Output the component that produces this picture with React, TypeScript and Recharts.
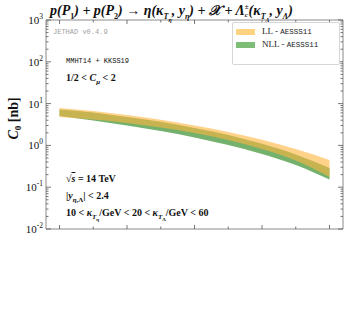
import { Area, ComposedChart, XAxis, YAxis } from "recharts";

const kappa = [20, 25, 30, 35, 40, 45, 50, 55, 60];
const llHigh = [7.85, 6.65, 5.34, 4.1, 2.99, 2.09, 1.36, 0.82, 0.448];
const llLow = [4.78, 4.17, 3.44, 2.68, 1.98, 1.35, 0.82, 0.435, 0.175];
const nllHigh = [7.22, 6.12, 4.78, 3.67, 2.61, 1.77, 1.09, 0.606, 0.288];
const nllLow = [5.05, 3.94, 2.99, 2.21, 1.55, 1.02, 0.622, 0.34, 0.153];

const yMajorTicks = [0.01, 0.1, 1, 10, 100, 1000];
const xTicks = [20, 22.5, 25, 27.5, 30, 32.5, 35, 37.5, 40, 42.5, 45, 47.5, 50, 52.5, 55, 57.5, 60];

const yTicks = yMajorTicks.flatMap((m, i) =>
  i === yMajorTicks.length - 1 ? [m] : [1, 2, 3, 4, 5, 6, 7, 8, 9].map((k) => +(m * k).toPrecision(3)),
);

const rows = kappa.map((k, i) => ({
  k,
  ll: [llLow[i], llHigh[i]],
  nll: [nllLow[i], nllHigh[i]],
}));

const serif = "'Liberation Serif', 'DejaVu Serif', serif";
const mono = "'Liberation Mono', 'DejaVu Sans Mono', monospace";
const frame = "#8a8a8a";
const tickColor = "#555";

function isMajor(v: number) {
  const l = Math.log10(v);
  return Math.abs(l - Math.round(l)) < 1e-6;
}

function LeftTick({ x, y, payload }: any) {
  const v = payload.value;
  const major = isMajor(v);
  const e = Math.round(Math.log10(v));
  const x0 = x + 3;
  return (
    <g>
      <line x1={x0} x2={x0 + (major ? 5 : 2.5)} y1={y} y2={y} stroke={tickColor} strokeWidth={0.8} />
      {major && (
        <text x={x} y={y + 4} textAnchor="end" fontFamily={serif} fontSize={11} fill="#111">
          10
          <tspan dy={-5} fontSize={7.5}>
            {e}
          </tspan>
        </text>
      )}
    </g>
  );
}

function RightTick({ x, y, payload }: any) {
  const major = isMajor(payload.value);
  return <line x1={x} x2={x - (major ? 5 : 2.5)} y1={y} y2={y} stroke={tickColor} strokeWidth={0.8} />;
}

function BottomTick({ x, y, payload }: any) {
  const major = payload.value % 10 === 0;
  return <line x1={x} x2={x} y1={y} y2={y - (major ? 4 : 2.5)} stroke={tickColor} strokeWidth={0.8} />;
}

function TopTick({ x, y, payload }: any) {
  const major = payload.value % 10 === 0;
  return <line x1={x} x2={x} y1={y} y2={y + (major ? 4 : 2.5)} stroke={tickColor} strokeWidth={0.8} />;
}

const abs = (left: number, top: number, extra: any = {}) => ({
  position: "absolute" as const,
  left,
  top,
  whiteSpace: "nowrap" as const,
  lineHeight: 1,
  ...extra,
});

export default function App() {
  return (
    <div style={{ position: "absolute", left: 0, top: 0, width: 349, height: 329, background: "#fff", overflow: "hidden" }}>
      <ComposedChart width={349} height={329} data={rows} margin={{ top: 19, right: 0, bottom: 99, left: 0 }}>
        <XAxis
          xAxisId="b"
          dataKey="k"
          type="number"
          domain={[18, 62]}
          allowDataOverflow
          ticks={xTicks}
          height={1}
          tickSize={0}
          tickMargin={0}
          tick={<BottomTick />}
          axisLine={{ stroke: frame }}
          tickLine={false}
        />
        <XAxis
          xAxisId="t"
          orientation="top"
          dataKey="k"
          type="number"
          domain={[18, 62]}
          allowDataOverflow
          ticks={xTicks}
          height={1}
          tickSize={0}
          tickMargin={0}
          tick={<TopTick />}
          axisLine={{ stroke: frame }}
          tickLine={false}
        />
        <YAxis
          yAxisId="l"
          scale="log"
          domain={[0.01, 1000]}
          allowDataOverflow
          ticks={yTicks}
          interval={0}
          width={46}
          tickSize={0}
          tickMargin={3}
          tick={<LeftTick />}
          axisLine={{ stroke: frame }}
          tickLine={false}
        />
        <YAxis
          yAxisId="r"
          orientation="right"
          scale="log"
          domain={[0.01, 1000]}
          allowDataOverflow
          ticks={yTicks}
          interval={0}
          width={6}
          tickSize={0}
          tickMargin={0}
          tick={<RightTick />}
          axisLine={{ stroke: frame }}
          tickLine={false}
        />
        <Area
          xAxisId="b"
          yAxisId="l"
          type="monotone"
          dataKey="nll"
          stroke="none"
          fill="#5ca352"
          fillOpacity={0.85}
          isAnimationActive={false}
        />
        <Area
          xAxisId="b"
          yAxisId="l"
          type="monotone"
          dataKey="ll"
          stroke="none"
          fill="#ffb43c"
          fillOpacity={0.6}
          isAnimationActive={false}
        />
      </ComposedChart>

      <div
        style={abs(50, 4, {
          fontFamily: serif,
          fontStyle: "italic",
          fontWeight: "bold",
          fontSize: 14,
          color: "#111",
        })}
      >
        p(P<sub style={{ fontSize: 8, fontStyle: "normal" }}>1</sub>) + p(P
        <sub style={{ fontSize: 8, fontStyle: "normal" }}>2</sub>) → η(κ
        <sub style={{ fontSize: 8 }}>T<sub style={{ fontSize: 6 }}>η</sub></sub>, y
        <sub style={{ fontSize: 8 }}>η</sub>) + 𝒳 + Λ
        <span
          style={{
            display: "inline-flex",
            flexDirection: "column",
            fontSize: 7,
            verticalAlign: "middle",
            lineHeight: 1.05,
            fontStyle: "normal",
          }}
        >
          <span>±</span>
          <span style={{ fontStyle: "italic" }}>c</span>
        </span>
        (κ<sub style={{ fontSize: 8 }}>T<sub style={{ fontSize: 6 }}>Λ</sub></sub>, y<sub style={{ fontSize: 8 }}>Λ</sub>)
      </div>

      <div
        style={abs(-10, 110, {
          transform: "rotate(-90deg)",
          fontFamily: serif,
          fontWeight: "bold",
          fontSize: 14,
          color: "#111",
          width: 50,
          textAlign: "center",
        })}
      >
        <i>C</i>
        <sub style={{ fontSize: 9 }}>0</sub> [nb]
      </div>

      <div style={abs(53, 29, { fontFamily: mono, fontSize: 7, color: "#a0a0a0" })}>JETHAD v0.4.9</div>
      <div style={abs(66, 58, { fontFamily: mono, fontSize: 7, color: "#111" })}>MMHT14 + KKSS19</div>
      <div style={abs(66, 73, { fontFamily: serif, fontWeight: "bold", fontSize: 10, color: "#111" })}>
        1/2 &lt; <i>C</i>
        <sub style={{ fontSize: 7 }}>
          <i>μ</i>
        </sub>{" "}
        &lt; 2
      </div>

      <div style={abs(66, 174, { fontFamily: serif, fontWeight: "bold", fontSize: 10, color: "#111" })}>
        √<span style={{ textDecoration: "overline" }}><i>s</i></span> = 14 TeV
      </div>
      <div style={abs(66, 191, { fontFamily: serif, fontWeight: "bold", fontSize: 10, color: "#111" })}>
        |<i>y</i>
        <sub style={{ fontSize: 7 }}>
          <i>η</i>,Λ
        </sub>
        | &lt; 2.4
      </div>
      <div style={abs(66, 208, { fontFamily: serif, fontWeight: "bold", fontSize: 10, color: "#111" })}>
        10 &lt; <i>κ</i>
        <sub style={{ fontSize: 7 }}>
          <i>T</i>
          <sub style={{ fontSize: 5 }}>η</sub>
        </sub>
        /GeV &lt; 20 &lt; <i>κ</i>
        <sub style={{ fontSize: 7 }}>
          <i>T</i>
          <sub style={{ fontSize: 5 }}>Λ</sub>
        </sub>
        /GeV &lt; 60
      </div>

      <div
        style={{
          position: "absolute",
          left: 232,
          top: 22,
          width: 106,
          height: 41,
          border: "1px solid #d6d6d6",
          borderRadius: 2,
          background: "#fff",
        }}
      >
        <div style={abs(3, 6, { width: 19, height: 6, background: "#ffd27f" })} />
        <div style={abs(29, 4, { fontFamily: serif, fontSize: 9, color: "#222" })}>
          LL - <span style={{ fontFamily: mono, fontSize: 7.5 }}>AESSS11</span>
        </div>
        <div style={abs(3, 19, { width: 19, height: 6, background: "#7dbd75" })} />
        <div style={abs(29, 17, { fontFamily: serif, fontSize: 9, color: "#222" })}>
          NLL - <span style={{ fontFamily: mono, fontSize: 7.5 }}>AESSS11</span>
        </div>
      </div>
    </div>
  );
}
